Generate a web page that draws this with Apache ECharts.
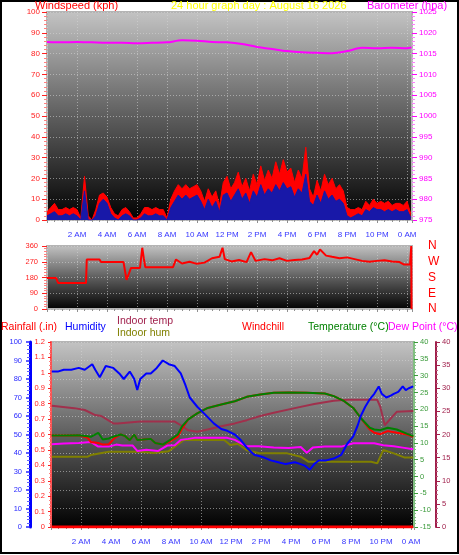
<!DOCTYPE html>
<html><head><meta charset="utf-8">
<script src="https://cdn.jsdelivr.net/npm/echarts@6.0.0/dist/echarts.min.js"></script>
<style>html,body{margin:0;padding:0;background:#fff}#c{width:459px;height:555px}</style>
</head><body><div id="c"></div>
<script>
// ---------- DATA ----------
// x tick labels (hours 0..24 step 2)
const xTickLabels = ['', '2 AM', '4 AM', '6 AM', '8 AM', '10 AM', '12 PM', '2 PM', '4 PM', '6 PM', '8 PM', '10 PM', '0 AM'];
const dirLetters = ['N', 'E', 'S', 'W', 'N']; // 0,90,180,270,360

// wind (kph), 15-minute samples from 0:00
const windGust = [
  4, 6, 8, 5, 5, 6, 5, 6,
  5, 1, 21, 2, 0, 5, 12, 13,
  11, 6, 3, 2, 5, 6, 4, 1,
  1, 3, 6, 6, 5, 6, 5, 5,
  1, 10, 14, 17, 15, 17, 15, 16,
  17, 14, 9, 15, 11, 14, 7, 18,
  21, 15, 18, 23, 16, 20, 14, 22,
  17, 26, 19, 24, 20, 28, 22, 29,
  23, 25, 18, 24, 20, 35, 15, 11,
  19, 14, 22, 17, 20, 15, 17, 14,
  6, 5, 5, 6, 5, 9, 7, 10,
  8, 9, 8, 9, 7, 8, 8, 7,
  9, 3
];
const windAvg = [
  2, 3, 4, 2, 2, 3, 2, 3,
  2, 0, 14, 0, 0, 2, 8, 10,
  8, 3, 1, 0, 2, 3, 2, 0,
  0, 1, 3, 2, 2, 3, 2, 2,
  0, 6, 9, 12, 10, 12, 10, 11,
  12, 9, 5, 10, 6, 9, 4, 12,
  13, 9, 12, 15, 10, 13, 8, 14,
  11, 17, 12, 15, 13, 17, 14, 18,
  15, 16, 11, 15, 13, 22, 9, 7,
  12, 8, 14, 10, 12, 9, 10, 8,
  2, 1, 2, 3, 2, 5, 4, 6,
  5, 5, 4, 5, 4, 5, 4, 4,
  5, 1
];
const windStepHours = 0.25;

// barometer (hpa)
const baroTime = [0,1,2,3,4,5,6,7,8,9,10,11,12,13,14,15,16,17,18,19,20,21,22,23,24,24.3];
const baroVal = [1017.8,1017.7,1017.8,1017.7,1017.6,1017.6,1017.5,1017.6,1017.7,1018.2,1018.1,1017.8,1017.7,1017.3,1016.6,1016.1,1015.6,1015.3,1015.2,1015.1,1015.6,1016.4,1016.3,1016.4,1016.3,1016.5];

// wind direction (deg)
const dirTime = [0,0.6,0.75,2.6,2.65,3.5,3.6,5.1,5.3,5.45,5.6,6.2,6.35,6.45,6.55,8.4,8.6,9.0,9.5,10.0,10.5,11.0,11.5,11.7,11.85,12.3,12.8,13.3,13.6,13.9,14.5,15.0,15.5,16.0,16.5,17.0,17.5,17.8,18.0,18.2,18.6,19.0,19.5,20.0,20.5,21.0,21.5,22.0,22.5,23.0,23.5,23.8,24.2,24.28,24.3];
const dirVal = [177,177,148,148,283,283,268,268,167,200,235,235,350,290,239,239,283,260,270,258,265,290,298,350,285,272,280,268,325,275,285,278,290,275,280,283,292,331,310,340,305,298,290,295,285,275,270,275,278,272,268,254,254,360,0];

// humidity (%)
const humTime = [0.2,0.6,1.0,1.5,2.0,2.4,2.9,3.1,3.4,3.8,4.3,4.7,5.0,5.4,5.7,5.9,6.1,6.5,6.8,7.2,7.6,8.0,8.4,8.8,9.1,9.4,9.9,10.4,11.0,11.5,11.9,12.4,12.8,13.2,13.7,14.2,14.8,15.3,15.8,16.4,16.8,17.1,17.4,17.7,18.0,18.5,19.0,19.5,19.9,20.3,20.6,20.8,21.1,21.4,21.7,22.0,22.2,22.5,22.8,23.0,23.3,23.6,23.8,24.0,24.3];
const humVal = [84,84,85,85,86,85,88,85,81,87,86,83,80,84,80,74,80,83,83,86,90,88,87,83,77,70,65,61,56,53,52,50,47,43,39,38,36,35,34,35,34,33,31,34,36,36,37,39,45,49,55,60,65,69,72,76,72,70,71,72,73,76,74,75,76];

// temperature & windchill (°C)
const tempTime = [0.2,1.0,2.0,2.6,2.8,3.3,3.6,4.0,4.4,4.8,5.1,5.4,5.7,5.9,6.3,6.8,7.1,7.6,8.1,8.6,8.9,9.3,9.9,10.6,11.5,12.4,13.2,14.1,15.0,16.0,17.2,18.4,19.0,19.7,20.3,20.8,21.4,21.7,22.1,22.6,23.2,23.9,24.3];
const tempVal = [12.2,12.2,12.3,12.0,11.8,13.0,11.0,11.3,12.0,12.5,12.0,10.8,12.5,10.9,11.0,11.2,10.0,9.5,10.9,12.5,15.0,17.0,18.8,20.4,21.4,22.4,23.7,24.4,24.9,25.0,24.9,24.7,23.9,22.4,20.4,17.4,14.5,14.0,13.8,14.5,14.0,12.7,12.0];
const chillVal = [12.2,12.2,12.3,11.5,10.3,10.0,9.5,9.6,11.5,12.5,12.0,10.8,12.5,10.9,11.0,11.2,10.0,9.5,10.5,11.8,14.3,17.0,18.8,20.4,21.4,22.4,23.7,24.4,24.9,25.0,24.9,24.7,23.9,22.4,20.4,17.4,14.0,13.0,12.6,13.5,13.0,12.5,11.8];

// dew point (°C)
const dewTime = [0.2,1.0,2.0,2.8,3.3,4.0,4.5,4.9,5.6,5.9,6.5,7.3,7.9,8.4,8.8,9.3,9.7,10.5,11.9,12.4,13.2,14.0,15.0,16.0,16.8,17.2,17.6,18.4,19.5,20.3,21.0,21.7,22.3,23.0,23.6,24.3];
const dewVal = [9.6,9.8,10.0,10.3,8.9,8.9,9.5,9.2,9.2,7.6,8.0,7.6,9.2,9.3,10.9,11.2,11.5,11.5,11.5,10.9,9.0,9.0,8.6,8.5,8.8,7.1,8.6,8.9,8.9,9.9,9.9,9.9,9.3,9.0,8.6,8.1];

// indoor temp (°C)
const inTempTime = [0.2,1.7,2.4,3.1,3.5,4.3,4.6,6.1,8.4,8.8,9.3,9.9,10.6,11.5,12.4,13.2,14.1,15.0,16.4,17.7,19.0,19.9,21.9,22.1,22.4,22.7,23.2,24.3];
const inTempVal = [26.2,25.7,25.3,24.2,24.0,22.4,22.4,22.8,22.8,22.0,20.9,20.6,21.1,21.8,22.4,23.1,24.0,24.7,25.7,26.6,27.3,27.5,27.5,26.0,22.0,23.1,24.9,25.1];

// indoor humidity (%)
const inHumTime = [0.2,2.6,2.8,4.0,6.1,7.0,8.0,8.4,9.0,11.7,12.1,12.6,13.2,14.1,15.9,16.8,17.3,21.5,21.9,22.3,23.0,23.7,24.3];
const inHumVal = [38,38,38.9,40.7,40.7,40,41,43.4,47,47,44.3,45,41.5,39.8,39.8,38,35.3,35.3,34.4,41.6,39.8,37.6,37.6];

// rainfall (in)
const rainTime = [0.2, 24.3];
const rainVal = [0, 0];

// ---------- CHART ----------
const pairs = (t, v) => v.map((y, i) => [t[i], y]);
const stepPairs = (v) => v.map((y, i) => [i * windStepHours, y]);
const FONT = 'Liberation Sans';
const plain = v => String(Math.round(v * 100) / 100);

function bg() {
  return new echarts.graphic.LinearGradient(0, 0, 0, 1, [
    {offset: 0, color: '#c4c4c4'},
    {offset: 0.5, color: '#5e5e5e'},
    {offset: 1, color: '#000000'}
  ]);
}
const gridLine = {show: true, lineStyle: {color: 'rgba(215,215,215,0.55)', width: 1, type: [1, 2]}};
function xAx(gi, min, max, showLabels) {
  return {
    type: 'value', gridIndex: gi, min: min, max: max, interval: 2,
    axisLine: {show: false},
    axisTick: {show: true, length: 3, lineStyle: {color: '#909090'}},
    minorTick: {show: true, splitNumber: 4, length: 2, lineStyle: {color: '#909090'}},
    splitLine: gridLine,
    axisLabel: {show: showLabels, color: '#3535ff', fontSize: 8, fontFamily: FONT, margin: 11,
      formatter: v => xTickLabels[Math.round(v / 2)] || ''}
  };
}
function yAx(gi, opts) {
  const c = opts.color;
  return Object.assign({
    type: 'value', gridIndex: gi,
    axisLine: {show: false},
    axisTick: {show: true, length: 5, lineStyle: {color: c}},
    minorTick: {show: true, splitNumber: 5, length: 3, lineStyle: {color: opts.minorColor || c}},
    splitLine: {show: false},
    axisLabel: {color: c, fontSize: 8, fontFamily: FONT, margin: 7, formatter: plain}
  }, opts.extra);
}

const chart = echarts.init(document.getElementById('c'), null, {renderer: 'canvas'});
const lineS = (name, xi, yi, data, color, width, z, extra) => Object.assign({
  name, type: 'line', xAxisIndex: xi, yAxisIndex: yi, data, symbol: 'none',
  lineStyle: {color, width}, itemStyle: {color}, z: z, animation: false
}, extra || {});

chart.setOption({
  animation: false,
  backgroundColor: '#ffffff',
  grid: [
    {left: 47, right: 47, top: 12, height: 208, show: true, backgroundColor: bg(), borderColor: '#b4b4b4', borderWidth: 2},
    {left: 47, right: 47, top: 246, height: 63, show: true, backgroundColor: bg(), borderColor: '#b4b4b4', borderWidth: 2},
    {left: 51, right: 45, top: 342, height: 185, show: true, backgroundColor: bg(), borderColor: '#b4b4b4', borderWidth: 2}
  ],
  xAxis: [xAx(0, 0, 24.33, true), xAx(1, 0, 24.33, false), xAx(2, 0.15, 24.35, true)],
  yAxis: [
    yAx(0, {color: '#ff2020', minorColor: '#ff8080', extra: {position: 'left', min: 0, max: 100, interval: 10, splitLine: gridLine}}),
    yAx(0, {color: '#ff00ff', minorColor: '#ff80ff', extra: {position: 'right', min: 975, max: 1025, interval: 5}}),
    yAx(1, {color: '#ff2020', minorColor: '#ff8080', extra: {position: 'left', min: 0, max: 360, interval: 90, splitLine: gridLine,
      minorTick: {show: true, splitNumber: 6, length: 3, lineStyle: {color: '#ff8080'}},
      axisLabel: {color: '#ff2020', fontSize: 7.5, fontFamily: FONT, margin: 9, formatter: plain}}}),
    {type: 'value', gridIndex: 1, position: 'right', min: 0, max: 360, interval: 90,
      axisLine: {show: false}, axisTick: {show: false}, splitLine: {show: false},
      axisLabel: {color: '#ff0000', fontSize: 12, fontFamily: FONT, margin: 16, formatter: v => dirLetters[Math.round(v / 90)]}},
    // bottom: humidity (blue)
    yAx(2, {color: '#2828ff', minorColor: '#6060ff', extra: {position: 'left', offset: 21, min: 0, max: 100, interval: 10, splitLine: gridLine,
      axisLine: {show: true, lineStyle: {color: '#0000ff', width: 3}},
      axisTick: {show: true, length: 4, lineStyle: {color: '#2828ff', width: 1.5}},
      axisLabel: {color: '#2828ff', fontSize: 7.5, fontFamily: FONT, margin: 8, formatter: plain}}}),
    // rainfall (red)
    yAx(2, {color: '#ff2020', minorColor: '#ff8080', extra: {position: 'left', min: 0, max: 1.2, interval: 0.1,
      axisLine: {show: true, lineStyle: {color: '#ff5050', width: 2, type: [1, 1]}},
      axisTick: {show: true, length: 3, lineStyle: {color: '#ff2020'}},
      minorTick: {show: true, splitNumber: 4, length: 2, lineStyle: {color: '#ff8080'}},
      axisLabel: {color: '#ff2020', fontSize: 7.5, fontFamily: FONT, margin: 6, formatter: plain}}}),
    // temperature (green)
    yAx(2, {color: '#3a9a3a', minorColor: '#80c080', extra: {position: 'right', min: -15, max: 40, interval: 5,
      axisLine: {show: true, lineStyle: {color: '#80c080', width: 2, type: [1, 1]}},
      axisTick: {show: true, length: 4, lineStyle: {color: '#3a9a3a'}},
      minorTick: {show: true, splitNumber: 5, length: 2, lineStyle: {color: '#80c080'}},
      axisLabel: {color: '#3a9a3a', fontSize: 7.5, fontFamily: FONT, margin: 6, formatter: plain}}}),
    // indoor temp (maroon)
    yAx(2, {color: '#a0204c', minorColor: '#c06080', extra: {position: 'right', offset: 22, min: 0, max: 40, interval: 5,
      axisLine: {show: true, lineStyle: {color: '#a0204c', width: 2}},
      axisTick: {show: true, length: 4, lineStyle: {color: '#a0204c'}},
      minorTick: {show: true, splitNumber: 5, length: 2, lineStyle: {color: '#c06080'}},
      axisLabel: {color: '#a0204c', fontSize: 7.5, fontFamily: FONT, margin: 6, formatter: plain}}})
  ],
  series: [
    lineS('Gust', 0, 0, stepPairs(windGust), '#ff0000', 1, 2, {areaStyle: {color: '#ff0000', opacity: 1}}),
    lineS('Average', 0, 0, stepPairs(windAvg), '#1818a8', 1, 3, {areaStyle: {color: '#1818a8', opacity: 1}}),
    lineS('Barometer', 0, 1, pairs(baroTime, baroVal), '#ff00ff', 2, 4, {smooth: 0.3, yAxisIndex: 1}),
    lineS('Direction', 1, 2, pairs(dirTime, dirVal), '#ff0000', 2, 4),
    lineS('Rainfall', 2, 5, pairs(rainTime, rainVal), '#ff0000', 3, 4),
    lineS('Indoor hum', 2, 4, pairs(inHumTime, inHumVal), '#808000', 2, 3),
    lineS('Indoor temp', 2, 7, pairs(inTempTime, inTempVal), '#a0304c', 2, 3),
    lineS('Dew Point', 2, 6, pairs(dewTime, dewVal), '#ff00ff', 2, 4),
    lineS('Windchill', 2, 6, pairs(tempTime, chillVal), '#ff0000', 2, 4),
    lineS('Temperature', 2, 6, pairs(tempTime, tempVal), '#008000', 2, 5),
    lineS('Humidity', 2, 4, pairs(humTime, humVal), '#0000ff', 2, 6)
  ],
  graphic: [
    {type: 'rect', shape: {x: 1, y: 1, width: 457, height: 552}, style: {fill: 'none', stroke: '#000', lineWidth: 2}, silent: true},
    {type: 'text', style: {text: 'Windspeed (kph)', x: 35, y: 6, fill: '#ff0000', font: '11px ' + FONT, textVerticalAlign: 'middle', verticalAlign: 'middle'}},
    {type: 'text', style: {text: '24 hour graph day : August 16 2026', x: 171, y: 6, fill: '#ffff00', font: '11px ' + FONT, textVerticalAlign: 'middle', verticalAlign: 'middle'}},
    {type: 'text', style: {text: 'Barometer (hpa)', x: 367, y: 6, fill: '#ff00ff', font: '11px ' + FONT, textVerticalAlign: 'middle', verticalAlign: 'middle'}},
    {type: 'text', style: {text: 'Rainfall (.in)', x: 1, y: 327, fill: '#ff0000', font: '10.5px ' + FONT, textVerticalAlign: 'middle', verticalAlign: 'middle'}},
    {type: 'text', style: {text: 'Humidity', x: 65, y: 327, fill: '#0000ff', font: '10.5px ' + FONT, textVerticalAlign: 'middle', verticalAlign: 'middle'}},
    {type: 'text', style: {text: 'Indoor temp', x: 117, y: 321, fill: '#a0204c', font: '10.5px ' + FONT, textVerticalAlign: 'middle', verticalAlign: 'middle'}},
    {type: 'text', style: {text: 'Indoor hum', x: 117, y: 333, fill: '#808000', font: '10.5px ' + FONT, textVerticalAlign: 'middle', verticalAlign: 'middle'}},
    {type: 'text', style: {text: 'Windchill', x: 242, y: 327, fill: '#ff0000', font: '10.5px ' + FONT, textVerticalAlign: 'middle', verticalAlign: 'middle'}},
    {type: 'text', style: {text: 'Temperature (°C)', x: 308, y: 327, fill: '#008000', font: '10.5px ' + FONT, textVerticalAlign: 'middle', verticalAlign: 'middle'}},
    {type: 'text', style: {text: 'Dew Point (°C)', x: 388, y: 327, fill: '#ff00ff', font: '10.5px ' + FONT, textVerticalAlign: 'middle', verticalAlign: 'middle'}}
  ]
});
</script></body></html>
